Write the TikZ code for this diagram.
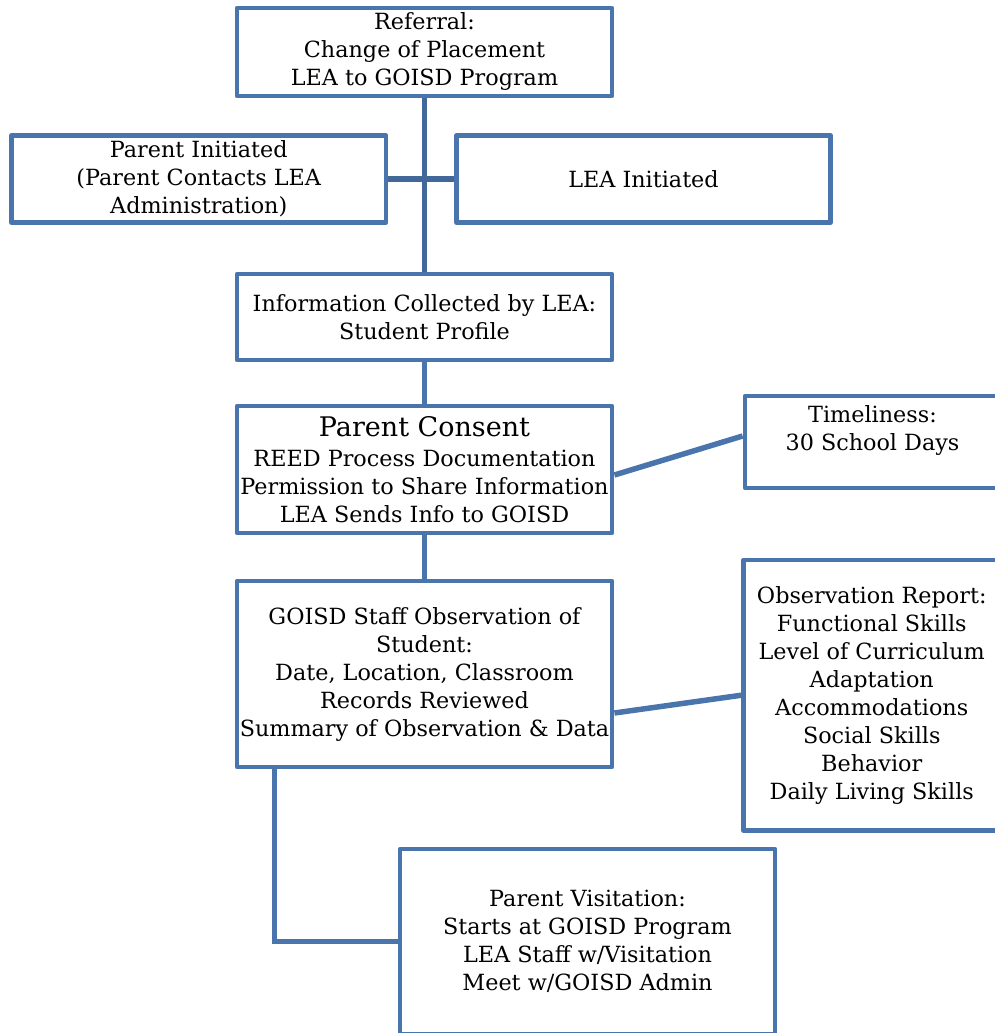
\documentclass[tikz,border=0pt]{standalone}
\usepackage{fontspec}
\setmainfont{DejaVu Serif}
\usetikzlibrary{positioning}
\definecolor{boxblue}{RGB}{74,117,172}
\definecolor{linkblue}{RGB}{66,104,154}

\begin{document}
\begin{tikzpicture}[
    x=1pt, y=-1pt,
    node distance=150pt,
    box/.style={rectangle, draw=boxblue, line width=4.8pt, line join=round, minimum width=375pt, minimum height=88pt, align=center, inner sep=1pt, font=\fontsize{22.3}{28}\selectfont},
    side/.style={box, minimum width=255pt},
    link/.style={draw=boxblue, line width=5.5pt}
]
\useasboundingbox (0,0) rectangle (995,1033);

% Main column
\node[box] (referral) at (424.5,52) {Referral:\\Change of Placement\\LEA to GOISD Program};

\node[box, minimum width=374.5pt, minimum height=87pt] (parentinit) at (198.75,179) {Parent Initiated\\(Parent Contacts LEA\\Administration)};

\node[box, minimum width=374pt, minimum height=87pt] (leainit) at (643.5,179) {LEA Initiated};

\node[box, below of=referral, node distance=265pt, minimum height=86pt] (info) {Information Collected by LEA:\\Student Profile};

\node[box, below of=info, node distance=152.5pt, minimum height=127pt] (consent) {{\fontsize{27}{30}\selectfont Parent Consent}\\[2pt]REED Process Documentation\\Permission to Share Information\\LEA Sends Info to GOISD};

\node[box, below of=consent, node distance=204.5pt, minimum height=186pt] (staff) {GOISD Staff Observation of\\Student:\\Date, Location, Classroom\\Records Reviewed\\Summary of Observation \& Data};

% Side boxes
\node[side, minimum height=92pt] (timeliness) at (872.5,442) {Timeliness:\\30 School Days\\\mbox{}};

\node[side, minimum width=256.5pt, minimum height=270.5pt] (obsreport) at (871.75,695.25) {Observation Report:\\Functional Skills\\Level of Curriculum\\Adaptation\\Accommodations\\Social Skills\\Behavior\\Daily Living Skills};

\node[box, minimum height=185pt] (visit) at (587.5,941.5) {Parent Visitation:\\Starts at GOISD Program\\LEA Staff w/Visitation\\Meet w/GOISD Admin};

% Connectors
\draw[link, draw=linkblue] (referral) -- (info);
\draw[link, draw=linkblue] (parentinit) -- (leainit);
\draw[link] (info) -- (consent);
\draw[link] (consent) -- (staff);
\draw[link] ([yshift=-5.5pt]consent.east) -- ([yshift=6pt]timeliness.west);
\draw[link] ([yshift=-39pt]staff.east) -- (obsreport.west);
\draw[link] ([xshift=40pt]staff.south west) |- (visit.west);

\end{tikzpicture}
\end{document}
